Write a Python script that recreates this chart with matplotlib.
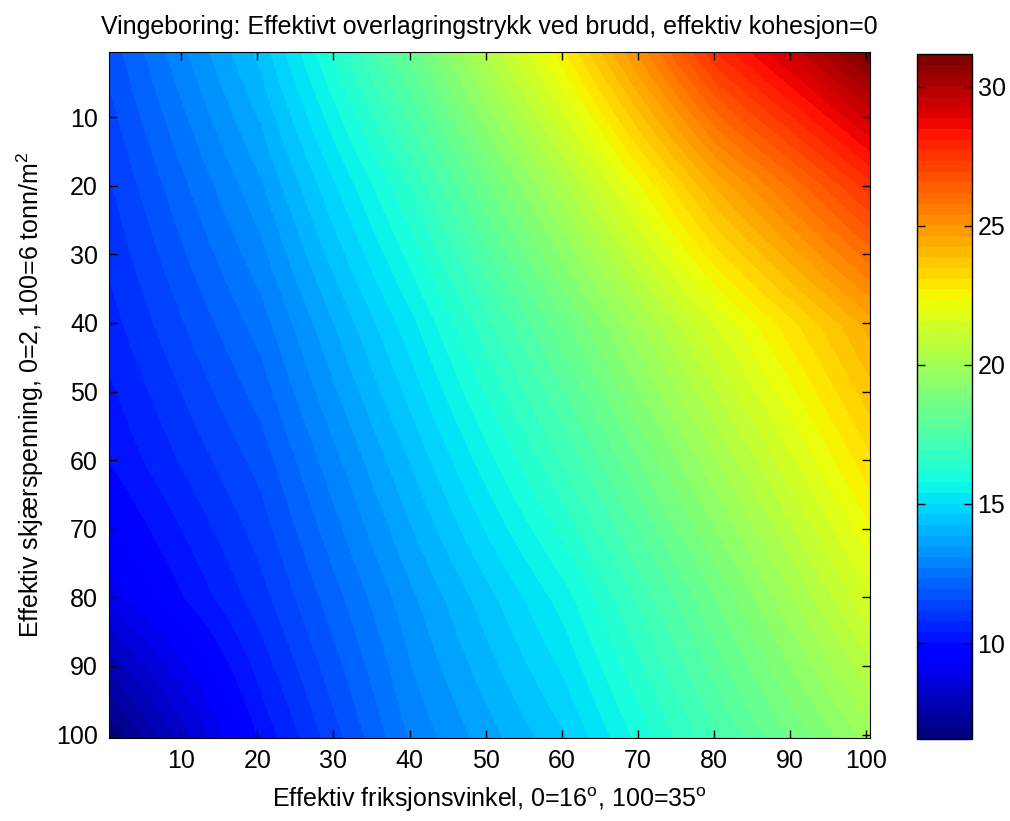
import numpy as np
import matplotlib
matplotlib.use("Agg")
import matplotlib.pyplot as plt

plt.rcParams['font.family'] = ['Liberation Sans Narrow', 'Liberation Sans', 'DejaVu Sans']
plt.rcParams['mathtext.fontset'] = 'custom'
plt.rcParams['mathtext.rm'] = 'Liberation Sans'
plt.rcParams['mathtext.default'] = 'regular'

sample_pos = [0.5, 20.5, 40.5, 60.5, 80.5, 100.5]

# effective overburden pressure, one row per shear-stress index (top -> bottom)
row_y1 = [11.7, 14.4, 18.3, 22.7, 27.8, 31.18]
row_y20 = [11.1, 13.4, 16.6, 20.3, 24.3, 27.5]
row_y40 = [10.6, 12.5, 15.3, 18.4, 21.6, 24.4]
row_y60 = [10.0, 11.7, 14.3, 17.0, 20.0, 23.0]
row_y80 = [9.0, 11.0, 13.4, 15.6, 18.5, 21.5]
row_y100 = [6.55, 10.1, 12.8, 14.6, 17.3, 19.8]

xticks = [10, 20, 30, 40, 50, 60, 70, 80, 90, 100]
yticks = [10, 20, 30, 40, 50, 60, 70, 80, 90, 100]
cticks = [10, 15, 20, 25, 30]

Z = np.array([row_y1, row_y20, row_y40, row_y60, row_y80, row_y100])
step = sample_pos[1] - sample_pos[0]
ext = (sample_pos[0] - step / 2, sample_pos[-1] + step / 2,
       sample_pos[-1] + step / 2, sample_pos[0] - step / 2)

fig = plt.figure(figsize=(10.10, 8.21), dpi=100)
ax = fig.add_axes([109 / 1010, 1 - 738 / 821, 761 / 1010, 686 / 821])
cax = fig.add_axes([917 / 1010, 1 - 739 / 821, 55 / 1010, 685 / 821])

cmap = plt.get_cmap('jet').resampled(64)
im = ax.imshow(Z, cmap=cmap, extent=ext, origin='upper', aspect='auto',
               interpolation='bilinear', interpolation_stage='data',
               vmin=Z.min(), vmax=Z.max())
ax.set_xlim(0.5, 100.5)
ax.set_ylim(100.5, 0.5)
ax.set_xticks(xticks)
ax.set_yticks(yticks)
ax.tick_params(direction='in', top=True, right=True, length=6, width=1,
               labelsize=18, pad=8)

ax.set_title("Vingeboring: Effektivt overlagringstrykk ved brudd, effektiv kohesjon=0",
             fontsize=18, pad=13)
ax.set_xlabel("Effektiv friksjonsvinkel, 0=16$^o$, 100=35$^o$", fontsize=18, labelpad=9)
ax.set_ylabel("Effektiv skjærspenning, 0=2, 100=6 tonn/m$^2$", fontsize=18, labelpad=7)

cb = fig.colorbar(im, cax=cax, ticks=cticks)
cb.ax.tick_params(direction='in', left=True, right=True, length=6, width=1,
                  labelsize=18, pad=4)
cb.outline.set_linewidth(1)

fig.savefig("out.png", dpi=100)
